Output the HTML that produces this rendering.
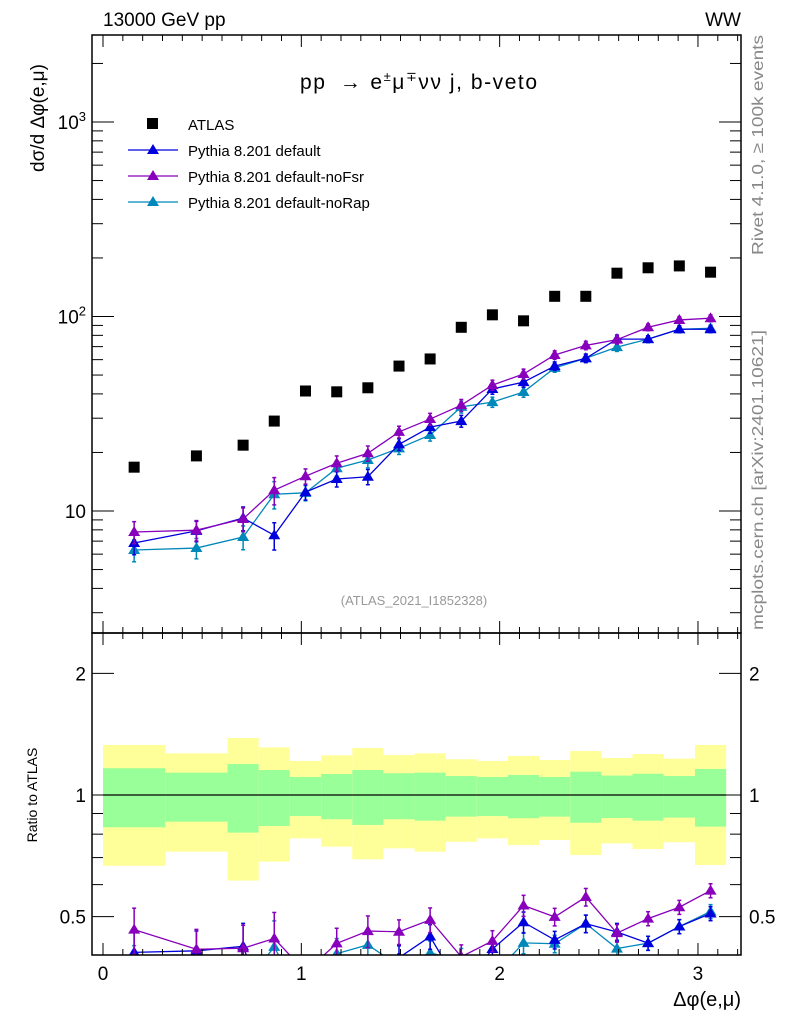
<!DOCTYPE html>
<html><head><meta charset="utf-8"><style>
html,body{margin:0;padding:0;background:#fff;}
svg{display:block;font-family:"Liberation Sans",sans-serif;}
</style></head><body>
<svg id="chart" width="786" height="1024" viewBox="0 0 786 1024">
<defs>
<clipPath id="clipMain"><rect x="92" y="35" width="649" height="598"/></clipPath>
<clipPath id="clipRatio"><rect x="92" y="633" width="649" height="322"/></clipPath>
</defs>
<g id="bands" clip-path="url(#clipRatio)"></g>
<g id="marks"></g>
<g id="axes"></g>
<text x="103" y="26" font-size="19">13000 GeV pp</text>
<text x="741" y="26" font-size="19" text-anchor="end">WW</text>
<text x="300" y="89" font-size="21" textLength="237" lengthAdjust="spacing">pp <tspan dx="6">→</tspan><tspan dx="8">e</tspan><tspan font-size="13" dy="-8">±</tspan><tspan dy="8">μ</tspan><tspan font-size="13" dy="-8">∓</tspan><tspan dy="8">νν j, b-veto</tspan></text>
<text x="414" y="605" font-size="13" fill="#999" text-anchor="middle">(ATLAS_2021_I1852328)</text>
<text transform="translate(763,255) rotate(-90)" font-size="16" fill="#888" textLength="220" lengthAdjust="spacingAndGlyphs">Rivet 4.1.0, ≥ 100k events</text>
<text transform="translate(763,630) rotate(-90)" font-size="16" fill="#888" textLength="300" lengthAdjust="spacingAndGlyphs">mcplots.cern.ch [arXiv:2401.10621]</text>
<text transform="translate(44,118) rotate(-90)" font-size="19" text-anchor="middle">dσ/d Δφ(e,μ)</text>
<text transform="translate(37,795) rotate(-90)" font-size="14" text-anchor="middle">Ratio to ATLAS</text>
<text x="741" y="1006" font-size="20" text-anchor="end">Δφ(e,μ)</text>
<g>
<rect x="147" y="118" width="11" height="11" fill="#000"/>
<text x="188" y="130" font-size="15">ATLAS</text>
<line x1="128" y1="150" x2="178" y2="150" stroke="#0000dd" stroke-width="1.3"/>
<path d="M153,144 L159,154 L147,154Z" fill="#0000dd"/>
<text x="188" y="156" font-size="15">Pythia 8.201 default</text>
<line x1="128" y1="176" x2="178" y2="176" stroke="#8800bb" stroke-width="1.3"/>
<path d="M153,170 L159,180 L147,180Z" fill="#8800bb"/>
<text x="188" y="182" font-size="15">Pythia 8.201 default-noFsr</text>
<line x1="128" y1="202" x2="178" y2="202" stroke="#0088bb" stroke-width="1.3"/>
<path d="M153,196 L159,206 L147,206Z" fill="#0088bb"/>
<text x="188" y="208" font-size="15">Pythia 8.201 default-noRap</text>
</g>
</svg>
<script>
const binEdges=[0,0.314,0.628,0.785,0.942,1.1,1.257,1.414,1.571,1.728,1.885,2.042,2.199,2.356,2.513,2.67,2.827,2.985,3.142];
const atlas=[16.8,19.2,21.8,29,41.4,41,43,55.6,60.5,88,102,95,127,127,167,178,182,169];
const mcDefault=[6.85,7.9,9.2,7.5,12.5,14.6,15.0,22,27,29,42.4,46,55.6,61,76.5,76.5,86,86];
const mcNoFsr=[7.8,7.97,9.1,12.8,15.1,17.6,19.8,25.5,29.7,35,44.4,50.6,63.4,71,76,88,96,98];
const mcNoRap=[6.3,6.45,7.35,12.2,12.4,16.6,18.3,21,24.6,34.3,36.3,40.9,54.4,61,69.6,76.5,86,87];
const mcRelErr=[0.13,0.12,0.14,0.16,0.09,0.09,0.09,0.07,0.07,0.07,0.06,0.06,0.05,0.05,0.05,0.04,0.04,0.04];
const bandYellowUp=[1.33,1.268,1.384,1.312,1.214,1.254,1.307,1.256,1.268,1.226,1.214,1.249,1.221,1.285,1.235,1.263,1.23,1.33];
const bandGreenUp=[1.165,1.136,1.193,1.153,1.108,1.127,1.153,1.132,1.136,1.114,1.108,1.121,1.108,1.142,1.117,1.129,1.114,1.16];
const bandGreenDn=[0.832,0.859,0.807,0.838,0.887,0.871,0.843,0.871,0.864,0.884,0.887,0.876,0.884,0.854,0.877,0.864,0.879,0.835];
const bandYellowDn=[0.668,0.724,0.614,0.684,0.781,0.745,0.693,0.738,0.724,0.766,0.781,0.752,0.774,0.71,0.759,0.735,0.764,0.671];
const xTicks=[0,1,2,3];
const mainTicks=[10,100,1000];
const mainTickLabels=["10","10²","10³"];
const ratioTicks=[0.5,1,2];
const ratioTickLabels=["0.5","1","2"];

const NS="http://www.w3.org/2000/svg";
const X0=92,X1=741,XMIN=-0.0555,XMAX=3.217;
const MT=35,MB=633,RT=633,RB=955;
function sx(v){return X0+(v-XMIN)/(XMAX-XMIN)*(X1-X0);}
function sy(v){return 511-(Math.log10(v)-1)*194.5;}
function ry(v){return 795-Math.log10(v)*404;}
function mk(tag,attrs,parent){const e=document.createElementNS(NS,tag);for(const k in attrs)e.setAttribute(k,attrs[k]);parent.appendChild(e);return e;}
const bands=document.getElementById('bands'),marks=document.getElementById('marks'),axes=document.getElementById('axes');
const centers=binEdges.slice(0,-1).map((e,i)=>(e+binEdges[i+1])/2);

for(let i=0;i<atlas.length;i++){
  const xa=sx(binEdges[i]),xb=sx(binEdges[i+1]);
  const y1=mk('rect',{x:xa,y:ry(bandYellowUp[i]),width:xb-xa,height:ry(bandYellowDn[i])-ry(bandYellowUp[i]),fill:'#ffff99'},bands);
  
  
  const g1=mk('rect',{x:xa,y:ry(bandGreenUp[i]),width:xb-xa,height:ry(bandGreenDn[i])-ry(bandGreenUp[i]),fill:'#99ff99'},bands);
  
  
}
const ln=mk('line',{x1:sx(binEdges[0]),x2:sx(binEdges[binEdges.length-1]),y1:ry(1),y2:ry(1),stroke:'#000','stroke-width':1.2},bands);



function tri(g,x,y,c){const p=mk('path',{d:`M${x},${y-6} L${x+6},${y+4} L${x-6},${y+4}Z`,fill:c},g);return p;}
function drawSeries(vals,color,name){
  const gm=mk('g',{'clip-path':'url(#clipMain)'},marks);
  
  
  const gr=mk('g',{'clip-path':'url(#clipRatio)'},marks);
  
  
  const pm=centers.map((c,i)=>sx(c)+','+sy(vals[i])).join(' ');
  mk('polyline',{points:pm,fill:'none',stroke:color,'stroke-width':1.3},gm);
  const pr=centers.map((c,i)=>sx(c)+','+ry(vals[i]/atlas[i])).join(' ');
  mk('polyline',{points:pr,fill:'none',stroke:color,'stroke-width':1.3},gr);
  centers.forEach((c,i)=>{
    const x=sx(c),v=vals[i],e=mcRelErr[i];
    [[gm,sy,v],[gr,ry,v/atlas[i]]].forEach(([g,f,val])=>{
      const ya=f(val*(1+e)),yb=f(val*(1-e));
      mk('line',{x1:x,x2:x,y1:ya,y2:yb,stroke:color,'stroke-width':1.5},g);
      mk('line',{x1:x-2,x2:x+2,y1:ya,y2:ya,stroke:color,'stroke-width':1.5},g);
      mk('line',{x1:x-2,x2:x+2,y1:yb,y2:yb,stroke:color,'stroke-width':1.5},g);
      const t=tri(g,x,f(val),color);
      
      
    });
  });
}
drawSeries(mcNoRap,'#0088bb','norap');
drawSeries(mcDefault,'#0000dd','default');
drawSeries(mcNoFsr,'#8800bb','nofsr');
const ga=mk('g',{'clip-path':'url(#clipMain)'},marks);


centers.forEach((c,i)=>{
  const r=mk('rect',{x:sx(c)-5.5,y:sy(atlas[i])-5.5,width:11,height:11,fill:'#000'},ga);
  
  
});

const f1=mk('rect',{x:X0,y:MT,width:X1-X0,height:MB-MT,fill:'none',stroke:'#000','stroke-width':1.5},axes);


const f2=mk('rect',{x:X0,y:RT,width:X1-X0,height:RB-RT,fill:'none',stroke:'#000','stroke-width':1.5},axes);


for(let k=0;k<=32;k++){
  const v=k/10,x=sx(v),maj=(k%10===0),L=maj?12:6;
  [[MT,1],[MB,-1],[RT,1],[RB,-1]].forEach(([y,d])=>mk('line',{x1:x,x2:x,y1:y,y2:y+d*L,stroke:'#000','stroke-width':1},axes));
}
xTicks.forEach(v=>{const t=mk('text',{x:sx(v),y:980,'font-size':19,'text-anchor':'middle'},axes);t.textContent=String(v);
  
  });
for(let d=0;d<=3;d++){for(let m=1;m<=9;m++){const v=m*Math.pow(10,d),y=sy(v);if(y<MT||y>MB)continue;const L=m===1?22:11;
  mk('line',{x1:X0,x2:X0+L,y1:y,y2:y,stroke:'#000','stroke-width':1},axes);mk('line',{x1:X1,x2:X1-L,y1:y,y2:y,stroke:'#000','stroke-width':1},axes);}}
mainTicks.forEach((v,i)=>{const t=mk('text',{x:86,y:sy(v)+7,'font-size':19,'text-anchor':'end'},axes);
  const lab=mainTickLabels[i];
  if(lab.length>2){t.textContent='10';const s=mk('tspan',{'font-size':13,dy:-8},t);s.textContent=(lab==='10²'?'2':'3');}else t.textContent=lab;
  
  });
[0.5,0.6,0.7,0.8,0.9,1,2].forEach(v=>{const y=ry(v),L=(v===0.5||v===1||v===2)?22:11;
  mk('line',{x1:X0,x2:X0+L,y1:y,y2:y,stroke:'#000','stroke-width':1},axes);mk('line',{x1:X1,x2:X1-L,y1:y,y2:y,stroke:'#000','stroke-width':1},axes);});
ratioTicks.forEach((v,i)=>{
  const t=mk('text',{x:86,y:ry(v)+7,'font-size':19,'text-anchor':'end'},axes);t.textContent=ratioTickLabels[i];
  
  
  const t2=mk('text',{x:749,y:ry(v)+7,'font-size':19},axes);t2.textContent=ratioTickLabels[i];
  
  
});
</script>
</body></html>
